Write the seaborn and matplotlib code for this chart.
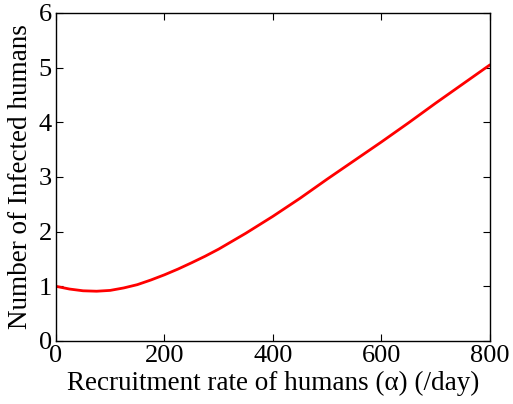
import matplotlib
matplotlib.use("Agg")
import matplotlib.pyplot as plt
import seaborn as sns
import pandas as pd

# data
alpha = [0, 25, 50, 75, 100, 125, 150, 175, 200, 225, 250, 275, 300, 350, 400, 450, 500, 550, 600, 650, 700, 750, 800]
infected = [1.00, 0.95, 0.918, 0.91, 0.925, 0.97, 1.03, 1.115, 1.21, 1.315, 1.43, 1.55, 1.68, 1.97, 2.28, 2.61, 2.96, 3.30, 3.64, 3.99, 4.35, 4.70, 5.05]
xticks = [0, 200, 400, 600, 800]
yticks = [0, 1, 2, 3, 4, 5, 6]

sns.set_style("ticks")
plt.rcParams['font.family'] = ['Liberation Serif', 'DejaVu Serif']
plt.rcParams['text.color'] = 'black'
plt.rcParams['axes.labelcolor'] = 'black'
plt.rcParams['xtick.color'] = 'black'
plt.rcParams['ytick.color'] = 'black'

df = pd.DataFrame({"alpha": alpha, "infected": infected})

fig = plt.figure(figsize=(5.13, 4.04), dpi=100)
ax = fig.add_axes([0.109, 0.156, 0.846, 0.812])
sns.lineplot(data=df, x="alpha", y="infected", color="red", linewidth=2, ax=ax)

ax.set_xlim(0, 800)
ax.set_ylim(0, 6)
ax.set_xticks(xticks)
ax.set_yticks(yticks)
ax.tick_params(direction="in", top=True, right=True, labelsize=19, length=5, width=0.8, pad=3)
for s in ax.spines.values():
    s.set_visible(True)
    s.set_linewidth(1.0)
    s.set_color("black")
ax.set_xlabel("Recruitment rate of humans (α) (/day)", fontsize=19.5, labelpad=3)
ax.set_ylabel("Number of Infected humans", fontsize=19.5, labelpad=4)

fig.savefig("out.png", dpi=100)
